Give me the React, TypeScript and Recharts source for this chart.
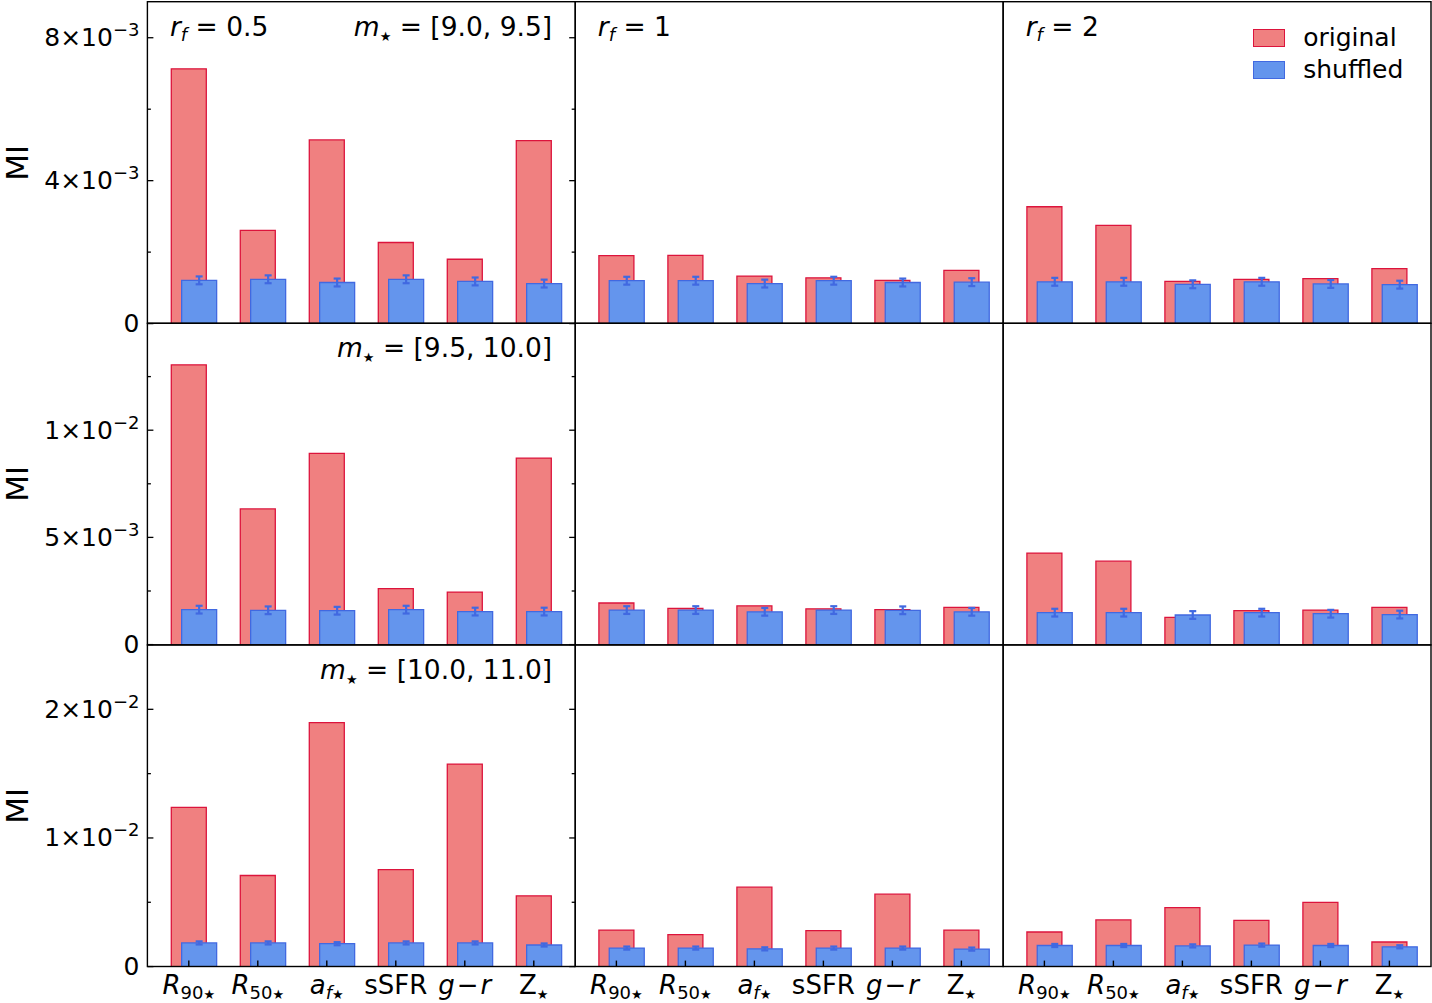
import React from 'react';
import { BarChart, Bar, XAxis, YAxis, ErrorBar, Legend } from 'recharts';

const FONT = '"DejaVu Sans", "Noto Sans", sans-serif';

// categories on the x axis (drawn with math-like sub/superscripts)
const categories = ['R90', 'R50', 'af', 'sSFR', 'g-r', 'Z'];
const rfLabels = ['0.5', '1', '2'];
const massBins = ['[9.0, 9.5]', '[9.5, 10.0]', '[10.0, 11.0]'];

// m* = [9.0, 9.5]
const origLowRf05 = [7.13e-3, 2.61e-3, 5.14e-3, 2.27e-3, 1.8e-3, 5.12e-3];
const shufLowRf05 = [1.21e-3, 1.24e-3, 1.15e-3, 1.24e-3, 1.18e-3, 1.12e-3];
const origLowRf1 = [1.9e-3, 1.91e-3, 1.33e-3, 1.28e-3, 1.21e-3, 1.49e-3];
const shufLowRf1 = [1.2e-3, 1.2e-3, 1.12e-3, 1.2e-3, 1.15e-3, 1.16e-3];
const origLowRf2 = [3.27e-3, 2.75e-3, 1.18e-3, 1.24e-3, 1.26e-3, 1.54e-3];
const shufLowRf2 = [1.17e-3, 1.17e-3, 1.1e-3, 1.17e-3, 1.11e-3, 1.09e-3];
const errLow = [1.1e-4, 1.1e-4, 1.1e-4, 1.1e-4, 1.1e-4, 1.1e-4];

// m* = [9.5, 10.0]
const origMidRf05 = [13.05e-3, 6.33e-3, 8.92e-3, 2.61e-3, 2.45e-3, 8.7e-3];
const shufMidRf05 = [1.63e-3, 1.6e-3, 1.58e-3, 1.63e-3, 1.54e-3, 1.54e-3];
const origMidRf1 = [1.94e-3, 1.69e-3, 1.81e-3, 1.67e-3, 1.63e-3, 1.74e-3];
const shufMidRf1 = [1.61e-3, 1.61e-3, 1.53e-3, 1.61e-3, 1.6e-3, 1.53e-3];
const origMidRf2 = [4.27e-3, 3.89e-3, 1.27e-3, 1.58e-3, 1.61e-3, 1.74e-3];
const shufMidRf2 = [1.49e-3, 1.49e-3, 1.38e-3, 1.49e-3, 1.44e-3, 1.4e-3];
const errMid = [1.8e-4, 1.8e-4, 1.8e-4, 1.8e-4, 1.8e-4, 1.8e-4];

// m* = [10.0, 11.0]
const origHighRf05 = [12.38e-3, 7.08e-3, 18.97e-3, 7.54e-3, 15.74e-3, 5.5e-3];
const shufHighRf05 = [1.84e-3, 1.84e-3, 1.78e-3, 1.84e-3, 1.84e-3, 1.68e-3];
const origHighRf1 = [2.84e-3, 2.48e-3, 6.17e-3, 2.79e-3, 5.63e-3, 2.84e-3];
const shufHighRf1 = [1.44e-3, 1.44e-3, 1.38e-3, 1.44e-3, 1.44e-3, 1.36e-3];
const origHighRf2 = [2.69e-3, 3.63e-3, 4.59e-3, 3.59e-3, 5.0e-3, 1.91e-3];
const shufHighRf2 = [1.64e-3, 1.64e-3, 1.61e-3, 1.67e-3, 1.64e-3, 1.54e-3];
const errHigh = [1.2e-4, 1.2e-4, 1.2e-4, 1.2e-4, 1.2e-4, 1.2e-4];

// y axes, one per mass bin
const yMax = [9e-3, 15e-3, 25e-3];
const yMajor = [[0, 4e-3, 8e-3], [0, 5e-3, 10e-3], [0, 10e-3, 20e-3]];
const yMinor = [[2e-3, 6e-3], [2.5e-3, 7.5e-3, 12.5e-3], [5e-3, 15e-3]];
const yTickMant = [['0', '4', '8'], ['0', '5', '1'], ['0', '1', '2']];
const yTickExp = [['', '−3', '−3'], ['', '−3', '−2'], ['', '−2', '−2']];

const original = [
  [origLowRf05, origLowRf1, origLowRf2],
  [origMidRf05, origMidRf1, origMidRf2],
  [origHighRf05, origHighRf1, origHighRf2],
];
const shuffled = [
  [shufLowRf05, shufLowRf1, shufLowRf2],
  [shufMidRf05, shufMidRf1, shufMidRf2],
  [shufHighRf05, shufHighRf1, shufHighRf2],
];
const errors = [errLow, errMid, errHigh];

// layout
const COL_X = [147.4, 575.3, 1003.2];
const ROW_Y = [1.7, 323.3, 644.9];
const PLOT_W = 427.8;
const PLOT_H = 321.6;
const X_DOMAIN: [number, number] = [-0.6, 5.6];
const SHUFFLE_SHIFT = 0.15;
const BAR_SIZE = 35;
const X_TICKS = categories.map((_, i) => i);

const RED_FILL = '#f08080';
const RED_EDGE = '#dc143c';
const BLUE_FILL = '#6495ed';
const BLUE_EDGE = '#4169e1';

const edgeOf: Record<string, string> = { original: RED_EDGE, shuffled: BLUE_EDGE };

const SUB = 18;
const STAR = 13;

function catLabel(name: string) {
  switch (name) {
    case 'R90':
    case 'R50':
      return [
        <tspan key="a" fontStyle="italic">R</tspan>,
        <tspan key="b" fontSize={SUB} dy={5}>{name.slice(1)}</tspan>,
        <tspan key="c" fontSize={STAR}>★</tspan>,
      ];
    case 'af':
      return [
        <tspan key="a" fontStyle="italic">a</tspan>,
        <tspan key="b" fontSize={SUB} dy={5} fontStyle="italic">f</tspan>,
        <tspan key="c" fontSize={STAR}>★</tspan>,
      ];
    case 'g-r':
      return [
        <tspan key="a" fontStyle="italic">g</tspan>,
        <tspan key="b" dx={2}>−</tspan>,
        <tspan key="c" dx={2} fontStyle="italic">r</tspan>,
      ];
    case 'Z':
      return [
        <tspan key="a">Z</tspan>,
        <tspan key="b" fontSize={STAR} dy={5}>★</tspan>,
      ];
    default:
      return name;
  }
}

const XTick = (props: any) => {
  const { x, y, payload, showLabel } = props;
  return (
    <g>
      <line x1={x} x2={x} y1={y} y2={y - 6} stroke="#000" strokeWidth={1.4} />
      {showLabel && (
        <text x={x} y={y + 27.5} textAnchor="middle" fontSize={26} fontFamily={FONT} fill="#000">
          {catLabel(categories[payload.value])}
        </text>
      )}
    </g>
  );
};

const YTick = (props: any) => {
  const { x, y, payload, row, showLabel } = props;
  const idx = yMajor[row].findIndex((m) => Math.abs(m - payload.value) < 1e-12);
  const major = idx >= 0;
  const len = major ? 6 : 3.5;
  const exp = major ? yTickExp[row][idx] : '';
  return (
    <g>
      <line x1={x} x2={x + len} y1={y} y2={y} stroke="#000" strokeWidth={1.3} />
      <line x1={x + PLOT_W} x2={x + PLOT_W - len} y1={y} y2={y} stroke="#000" strokeWidth={1.3} />
      {showLabel && major && (
        <text x={x - 8} y={y + 8.5} textAnchor="end" fontSize={25} fontFamily={FONT} fill="#000">
          <tspan>{yTickMant[row][idx] + (exp ? '×10' : '')}</tspan>
          {exp && (
            <tspan fontSize={18} dy={-10}>{exp}</tspan>
          )}
        </text>
      )}
    </g>
  );
};

const MiLabel = (props: any) => {
  const vb = props.viewBox || { y: 0, height: PLOT_H };
  const cx = 28;
  const cy = vb.y + vb.height / 2;
  return (
    <text x={cx} y={cy} transform={`rotate(-90 ${cx} ${cy})`} textAnchor="middle" fontSize={31} fontFamily={FONT} fill="#000">
      MI
    </text>
  );
};

const LegendBox = (props: any) => (
  <div style={{ fontFamily: FONT }}>
    {(props.payload || []).map((p: any) => (
      <div key={p.value} style={{ display: 'flex', alignItems: 'center', height: 32.3 }}>
        <span
          style={{
            display: 'inline-block',
            width: 32,
            height: 18,
            boxSizing: 'border-box',
            background: p.color,
            border: `1.5px solid ${edgeOf[p.value]}`,
          }}
        />
        <span style={{ marginLeft: 18, fontSize: 25, lineHeight: '32px', color: '#000' }}>{p.value}</span>
      </div>
    ))}
  </div>
);

function Panel({ row, col }: { row: number; col: number }) {
  const data = categories.map((name, i) => ({
    name,
    x: i,
    original: original[row][col][i],
    shuffled: shuffled[row][col][i],
    err: errors[row][i],
  }));
  const isLeft = col === 0;
  const isBottom = row === 2;
  const axW = isLeft ? COL_X[0] : 0;
  const axH = isBottom ? 36 : 0;
  const padB = !isBottom && isLeft ? 14 : 0;
  return (
    <div style={{ position: 'absolute', left: COL_X[col] - axW, top: ROW_Y[row] }}>
      <BarChart
        width={axW + PLOT_W}
        height={PLOT_H + axH + padB}
        data={data}
        margin={{ top: 0, right: 0, bottom: padB, left: 0 }}
      >
        <Bar
          xAxisId="o"
          dataKey="original"
          name="original"
          fill={RED_FILL}
          stroke={RED_EDGE}
          strokeWidth={1.3}
          barSize={BAR_SIZE}
          isAnimationActive={false}
        />
        <Bar
          xAxisId="s"
          dataKey="shuffled"
          name="shuffled"
          fill={BLUE_FILL}
          stroke={BLUE_EDGE}
          strokeWidth={1.3}
          barSize={BAR_SIZE}
          isAnimationActive={false}
        >
          <ErrorBar dataKey="err" direction="y" width={3.5} strokeWidth={2.2} stroke={BLUE_EDGE} />
        </Bar>
        <XAxis
          xAxisId="s"
          type="number"
          dataKey="x"
          domain={[X_DOMAIN[0] - SHUFFLE_SHIFT, X_DOMAIN[1] - SHUFFLE_SHIFT]}
          ticks={X_TICKS}
          allowDataOverflow
          hide
        />
        <XAxis
          xAxisId="o"
          type="number"
          dataKey="x"
          domain={X_DOMAIN}
          ticks={X_TICKS}
          interval={0}
          allowDataOverflow
          height={axH}
          tickSize={0}
          tickMargin={0}
          axisLine={false}
          tickLine={false}
          tick={<XTick showLabel={isBottom} />}
        />
        <YAxis
          type="number"
          domain={[0, yMax[row]]}
          ticks={[...yMajor[row], ...yMinor[row]]}
          interval={0}
          allowDataOverflow
          width={axW}
          tickSize={0}
          tickMargin={0}
          axisLine={false}
          tickLine={false}
          tick={<YTick row={row} showLabel={isLeft} />}
          label={isLeft ? (p: any) => <MiLabel {...p} /> : undefined}
        />
        {row === 0 && col === 2 && (
          <Legend
            layout="horizontal"
            verticalAlign="middle"
            align="center"
            content={<LegendBox />}
            wrapperStyle={{ left: 250, top: 20, width: 170, height: 66 }}
          />
        )}
      </BarChart>
    </div>
  );
}

function RfTitle({ x, y, rf }: { x: number; y: number; rf: string }) {
  return (
    <text x={x} y={y} fontSize={26.5} fontFamily={FONT} fill="#000">
      <tspan fontStyle="italic">r</tspan>
      <tspan fontStyle="italic" fontSize={SUB} dy={5}>f</tspan>
      <tspan dy={-5}>{'\u00a0=\u00a0' + rf}</tspan>
    </text>
  );
}

function MassTitle({ x, y, bin }: { x: number; y: number; bin: string }) {
  return (
    <text x={x} y={y} textAnchor="end" fontSize={26.5} fontFamily={FONT} fill="#000">
      <tspan fontStyle="italic">m</tspan>
      <tspan fontSize={STAR} dy={5}>★</tspan>
      <tspan dy={-5}>{'\u00a0=\u00a0' + bin}</tspan>
    </text>
  );
}

export default function App() {
  const cells: { row: number; col: number }[] = [];
  for (let r = 0; r < 3; r++) for (let c = 0; c < 3; c++) cells.push({ row: r, col: c });
  return (
    <div style={{ position: 'relative', width: 1432, height: 1003, background: '#fff', overflow: 'hidden' }}>
      <style>{'body{margin:0}'}</style>
      {cells.map(({ row, col }) => (
        <Panel key={`${row}-${col}`} row={row} col={col} />
      ))}
      <svg
        width={1432}
        height={1003}
        style={{ position: 'absolute', left: 0, top: 0, pointerEvents: 'none' }}
      >
        {cells.map(({ row, col }) => (
          <rect
            key={`f-${row}-${col}`}
            x={COL_X[col]}
            y={ROW_Y[row]}
            width={PLOT_W}
            height={PLOT_H}
            fill="none"
            stroke="#000"
            strokeWidth={1.4}
          />
        ))}
        {rfLabels.map((rf, c) => (
          <RfTitle key={`rf-${c}`} x={COL_X[c] + 22.5} y={ROW_Y[0] + 34} rf={rf} />
        ))}
        {massBins.map((bin, r) => (
          <MassTitle key={`m-${r}`} x={COL_X[0] + PLOT_W - 23} y={ROW_Y[r] + 34} bin={bin} />
        ))}
      </svg>
    </div>
  );
}
